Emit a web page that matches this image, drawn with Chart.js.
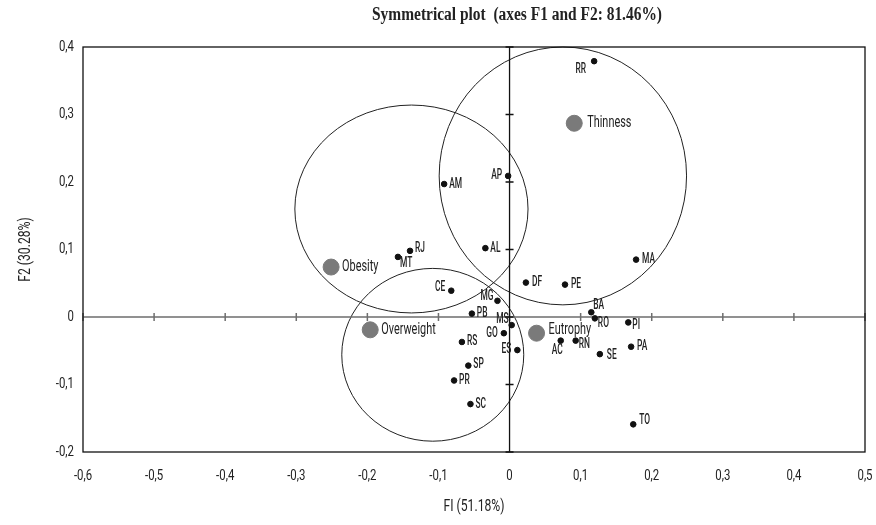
<!DOCTYPE html>
<html>
<head>
<meta charset="utf-8">
<script src="https://cdn.jsdelivr.net/npm/chart.js@4.4.1/dist/chart.umd.min.js"></script>
<style>
  html, body { margin: 0; padding: 0; background: #fff; }
  #wrap { width: 876px; height: 525px; }
</style>
</head>
<body>
<div id="wrap"><canvas id="chart"></canvas></div>
<script>
// state points (F1, F2)
const states = ['RR', 'AP', 'AM', 'AL', 'RJ', 'MT', 'CE', 'DF', 'MG', 'PB', 'MS', 'GO', 'RS', 'ES', 'SP', 'PR', 'SC',
  'MA', 'PE', 'BA', 'RO', 'PI', 'AC', 'RN', 'SE', 'PA', 'TO'];
const stateF1 = [0.119, -0.002, -0.092, -0.034, -0.140, -0.157, -0.082, 0.023, -0.017, -0.053, 0.003, -0.008, -0.067, 0.011, -0.058, -0.078, -0.055,
  0.178, 0.078, 0.115, 0.120, 0.167, 0.072, 0.093, 0.127, 0.171, 0.174];
const stateF2 = [0.379, 0.209, 0.197, 0.102, 0.098, 0.089, 0.039, 0.051, 0.024, 0.005, -0.012, -0.024, -0.037, -0.049, -0.072, -0.094, -0.129,
  0.085, 0.048, 0.007, -0.002, -0.008, -0.035, -0.035, -0.055, -0.044, -0.159];

// nutritional status categories
const groups = ['Thinness', 'Eutrophy', 'Overweight', 'Obesity'];
const groupF1 = [0.091, 0.038, -0.196, -0.251];
const groupF2 = [0.287, -0.024, -0.019, 0.074];

// circles around the groups (centre and radii in axis units)
const circleF1 = [0.075, -0.108, -0.138];
const circleF2 = [0.209, -0.056, 0.160];
const circleR1 = [0.174, 0.128, 0.164];
const circleR2 = [0.191, 0.128, 0.154];

const xTicks = [-0.6, -0.5, -0.4, -0.3, -0.2, -0.1, 0, 0.1, 0.2, 0.3, 0.4, 0.5];
const yTicks = [-0.2, -0.1, 0, 0.1, 0.2, 0.3, 0.4];

const chartTitle = 'Symmetrical plot  (axes F1 and F2: 81.46%)';

const sans = "Roboto, 'DejaVu Sans', sans-serif";
const squeeze = 0.76; // no condensed face installed, so scale text horizontally

const fmt = v => {
  const r = Math.round(v * 10) / 10;
  return r === 0 ? '0' : String(r).replace('.', ',');
};

// where each label sits relative to its point: [dx, dy, align]
const labelPos = {
  RR: [-8, 8, 'right'], AP: [-6, 0, 'right'], AM: [5, 0, 'left'], AL: [5, 0, 'left'],
  RJ: [5, -2, 'left'], MT: [2, 7, 'left'], CE: [-6, -3, 'right'], DF: [6, 0, 'left'],
  MG: [-4, -4, 'right'], PB: [5, 0, 'left'], MS: [-3, -6, 'right'], GO: [-6, 0, 'right'],
  RS: [5, 0, 'left'], ES: [-6, -1, 'right'], SP: [5, -1, 'left'], PR: [5, 0, 'left'],
  SC: [5, 0, 'left'], MA: [6, 0, 'left'], PE: [6, 0, 'left'], BA: [2, -7, 'left'],
  RO: [3, 5, 'left'], PI: [4, 3, 'left'], AC: [-9, 10, 'left'], RN: [3, 4, 'left'],
  SE: [7, 1, 'left'], PA: [6, 0, 'left'], TO: [6, -4, 'left'],
  Thinness: [13, -1, 'left'], Eutrophy: [12, -3, 'left'], Overweight: [11, 0, 'left'], Obesity: [11, 0, 'left']
};

// squeeze the text chart.js draws (ticks, axis titles) while the chart is painted
const condensed = {
  id: 'condensed',
  beforeDraw(chart) {
    const ctx = chart.ctx;
    const fill = ctx.fillText;
    ctx.fillText = function (t, x, y, mw) {
      const w = this.measureText(t).width * squeeze;
      return fill.call(this, t, x, y, mw === undefined ? w : Math.min(mw, w));
    };
  },
  afterDraw(chart) {
    delete chart.ctx.fillText;
  }
};

const frameAndAxes = {
  id: 'frameAndAxes',
  beforeDatasetsDraw(chart) {
    const { ctx, chartArea: a, scales: { x, y } } = chart;
    const x0 = x.getPixelForValue(0);
    const y0 = y.getPixelForValue(0);
    ctx.save();
    // circles
    ctx.strokeStyle = '#222';
    ctx.lineWidth = 1;
    circleF1.forEach((cx, i) => {
      const px = x.getPixelForValue(cx);
      const py = y.getPixelForValue(circleF2[i]);
      const rx = Math.abs(x.getPixelForValue(cx + circleR1[i]) - px);
      const ry = Math.abs(y.getPixelForValue(circleF2[i] + circleR2[i]) - py);
      ctx.beginPath();
      ctx.ellipse(px, py, rx, ry, 0, 0, Math.PI * 2);
      ctx.stroke();
    });
    // horizontal zero axis with ticks
    ctx.strokeStyle = '#6e6e6e';
    ctx.lineWidth = 1.5;
    ctx.beginPath();
    ctx.moveTo(a.left, y0);
    ctx.lineTo(a.right, y0);
    xTicks.forEach(t => {
      const px = x.getPixelForValue(t);
      ctx.moveTo(px, y0 - 4);
      ctx.lineTo(px, y0 + 4);
    });
    ctx.stroke();
    // vertical zero axis with ticks
    ctx.strokeStyle = '#111';
    ctx.lineWidth = 1.3;
    ctx.beginPath();
    ctx.moveTo(x0, a.top);
    ctx.lineTo(x0, a.bottom);
    yTicks.forEach(t => {
      const py = y.getPixelForValue(t);
      ctx.moveTo(x0 - 4, py);
      ctx.lineTo(x0 + 4, py);
    });
    ctx.stroke();
    // frame
    ctx.strokeRect(a.left, a.top, a.right - a.left, a.bottom - a.top);
    ctx.restore();
  },
  afterDatasetsDraw(chart) {
    const { ctx } = chart;
    ctx.save();
    ctx.fillStyle = '#222';
    ctx.textBaseline = 'middle';
    chart.data.datasets.forEach((ds, di) => {
      const meta = chart.getDatasetMeta(di);
      const k = di === 0 ? 0.6 : 0.64;
      ctx.font = (di === 0 ? '500 14px ' : '17px ') + sans;
      meta.data.forEach((pt, i) => {
        const name = ds.names[i];
        const [dx, dy, align] = labelPos[name];
        ctx.textAlign = align;
        ctx.fillText(name, pt.x + dx, pt.y + dy, ctx.measureText(name).width * k);
      });
    });
    ctx.restore();
  },
  afterDraw(chart) {
    const { ctx } = chart;
    ctx.save();
    ctx.fillStyle = '#222';
    ctx.font = "bold 18px 'Liberation Serif', 'DejaVu Serif', serif";
    ctx.textAlign = 'center';
    ctx.textBaseline = 'middle';
    ctx.fillText(chartTitle, 517, 15, 290);
    ctx.restore();
  }
};

new Chart(document.getElementById('chart'), {
  type: 'scatter',
  data: {
    datasets: [
      {
        label: 'States',
        names: states,
        data: states.map((s, i) => ({ x: stateF1[i], y: stateF2[i] })),
        backgroundColor: '#111',
        borderColor: '#111',
        pointRadius: 2.8,
        pointHoverRadius: 2.8
      },
      {
        label: 'Status',
        names: groups,
        data: groups.map((g, i) => ({ x: groupF1[i], y: groupF2[i] })),
        backgroundColor: '#7a7a7a',
        borderColor: '#7a7a7a',
        pointRadius: 8,
        pointHoverRadius: 8
      }
    ]
  },
  options: {
    responsive: true,
    maintainAspectRatio: false,
    animation: false,
    layout: { padding: { left: 0, right: 0, top: 47, bottom: 0 } },
    plugins: {
      legend: { display: false },
      tooltip: { enabled: false }
    },
    scales: {
      x: {
        type: 'linear',
        min: -0.6,
        max: 0.5,
        afterBuildTicks: s => { s.ticks = xTicks.map(v => ({ value: v })); },
        afterFit: s => { s.height = 73; s.paddingLeft = 0; s.paddingRight = 11; },
        grid: { display: false, drawTicks: false },
        border: { display: false },
        ticks: { color: '#222', padding: 15, font: { family: sans, size: 15 }, callback: v => fmt(v) },
        title: { display: true, text: 'FI (51.18%)', color: '#222', font: { family: sans, size: 16 }, padding: { top: 0, bottom: 8 } }
      },
      y: {
        type: 'linear',
        min: -0.2,
        max: 0.4,
        afterBuildTicks: s => { s.ticks = yTicks.map(v => ({ value: v })); },
        afterFit: s => { s.width = 83; },
        grid: { display: false, drawTicks: false },
        border: { display: false },
        ticks: { color: '#222', padding: 9, font: { family: sans, size: 15 }, callback: v => fmt(v) },
        title: { display: true, text: 'F2 (30.28%)', color: '#222', font: { family: sans, size: 16 }, padding: { top: 16, bottom: 0 } }
      }
    }
  },
  plugins: [condensed, frameAndAxes]
});
</script>
</body>
</html>
